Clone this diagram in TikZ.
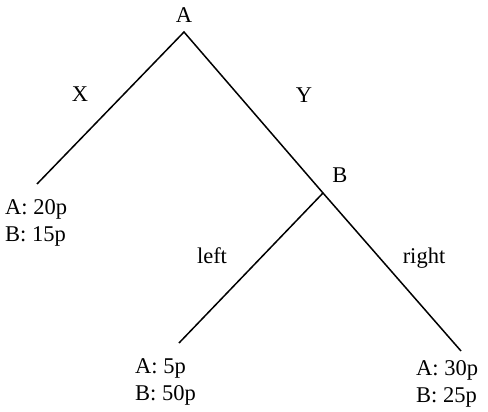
\documentclass[tikz,border=0pt]{standalone}
\usepackage{fontspec}
\setmainfont{Liberation Serif}
\begin{document}
\begin{tikzpicture}[x=1pt,y=-1pt,
  txt/.style={font=\fontsize{22.5}{27.5}\selectfont, inner sep=0pt},
  payoff/.style={txt, align=left, anchor=north west},
  branch/.style={line width=1.5pt}]
\useasboundingbox (0,0) rectangle (488,412);
\node[txt] (lA) at (184,15) {A};
\coordinate (top) at (184,32);
\coordinate (endL) at (37,184);
\coordinate (jB) at (323,193);
\coordinate (endLL) at (179,343);
\coordinate (endRR) at (461,351);
\draw[branch] (endL) -- (top) -- (jB) -- (endRR);
\draw[branch] (jB) -- (endLL);
\node[txt] (lB) at (340,175) {B};
\node[txt] (lX) at (80,94) {X};
\node[txt] (lY) at (304,95) {Y};
\node[txt] (lleft) at (212,256) {left};
\node[txt] (lright) at (424,258) {right};
\node[payoff] (p1) at (5,199) {A: 20p\\B: 15p};
\node[payoff] (p2) at (135,358) {A: 5p\\B: 50p};
\node[payoff] (p3) at (416,360) {A: 30p\\B: 25p};
\end{tikzpicture}
\end{document}
